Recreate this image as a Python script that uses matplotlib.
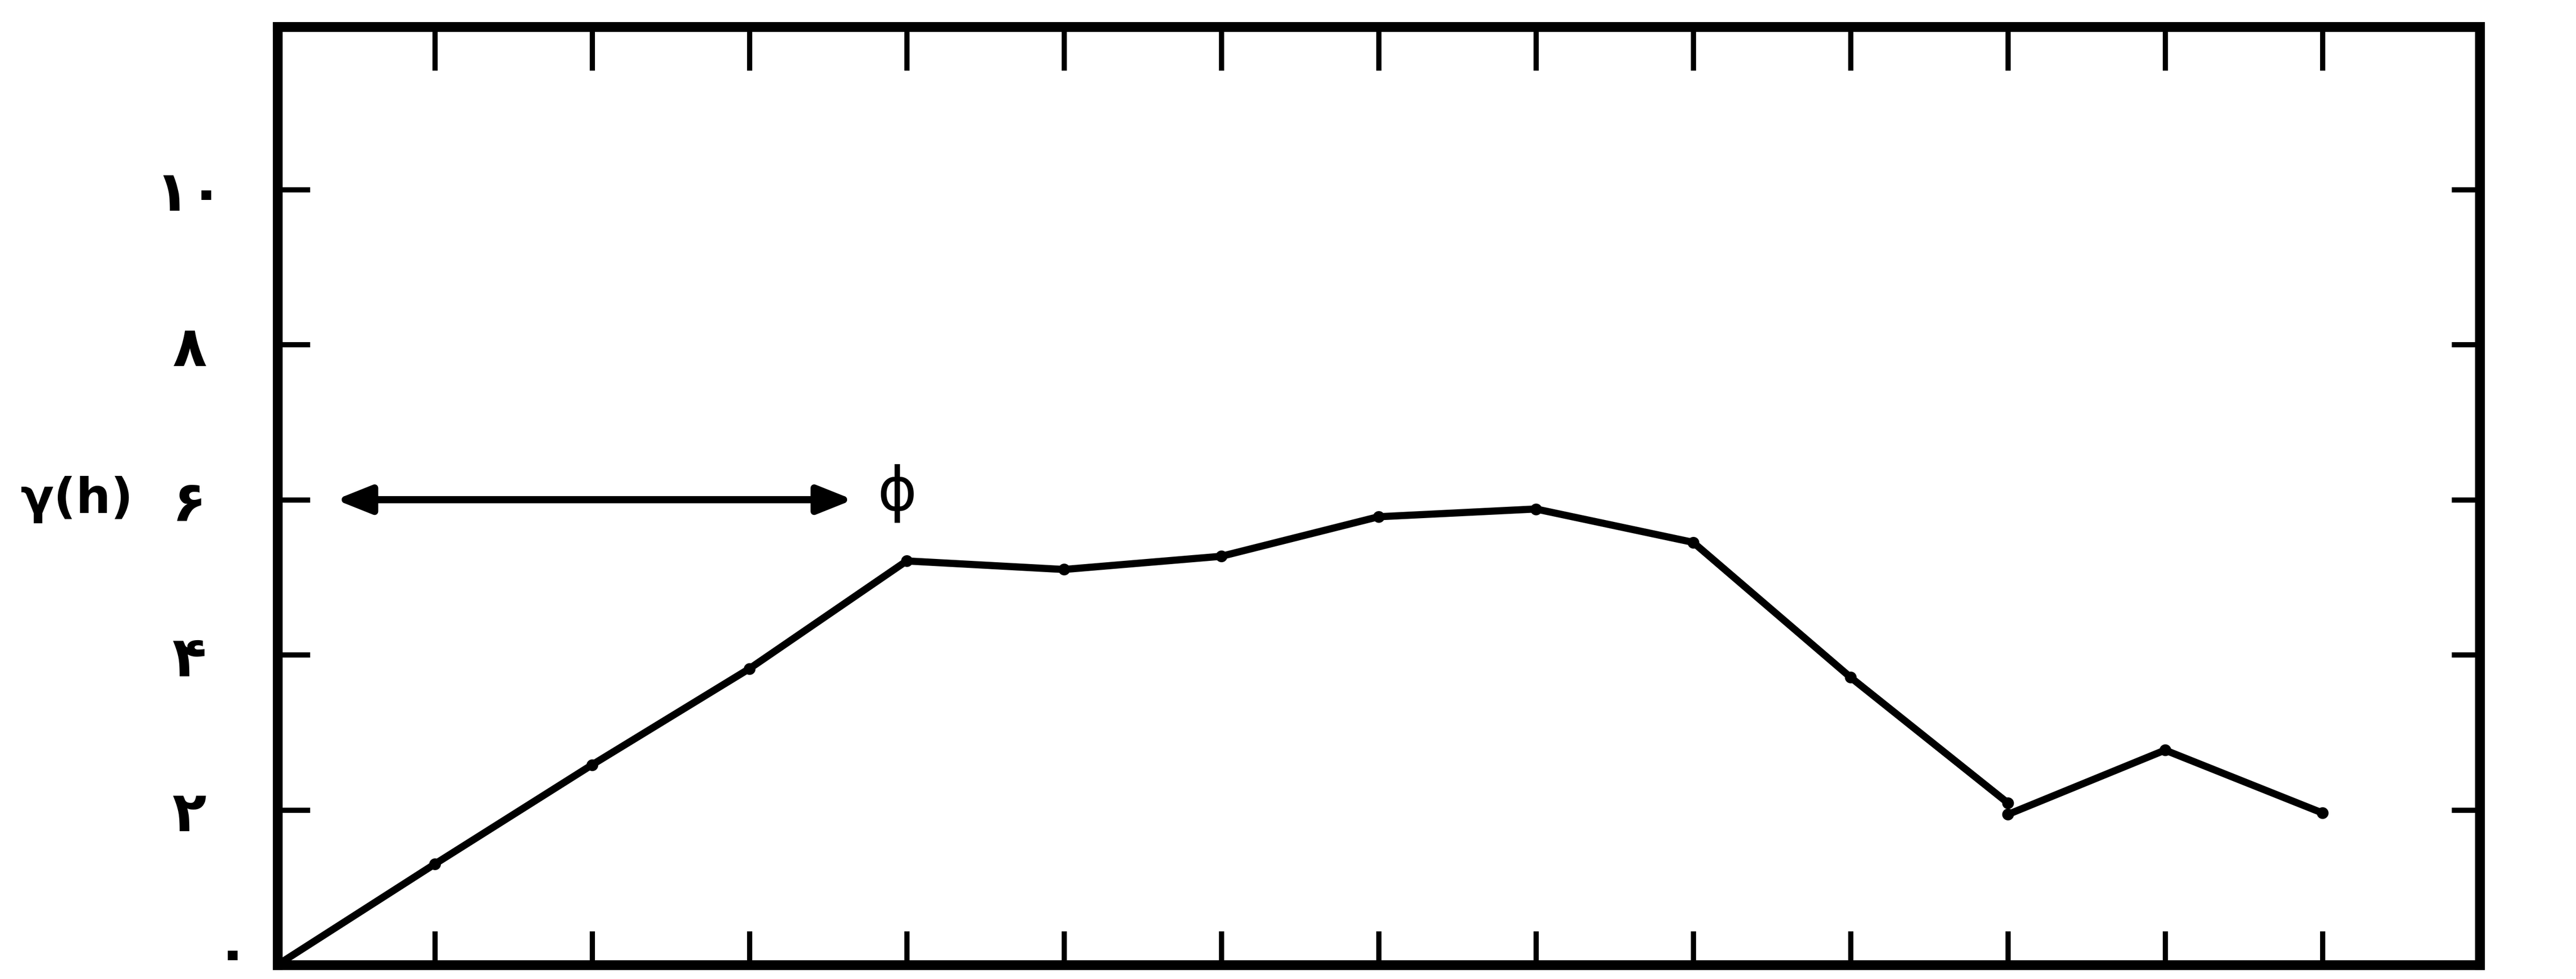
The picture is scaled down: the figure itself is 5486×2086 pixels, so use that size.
import matplotlib.pyplot as plt

plt.rcParams['font.family'] = ['DejaVu Sans']

# lag h (1..13) and the semivariogram
lag = [0, 1, 2, 3, 4, 5, 6, 7, 8, 9, 10, 11]
gamma = [0, 1.30, 2.58, 3.82, 5.21, 5.10, 5.27, 5.78, 5.88, 5.45, 3.71, 2.09]
# the last piece is drawn separately (small break at h=11)
lag_tail = [11, 12, 13]
gamma_tail = [1.94, 2.77, 1.96]

x_ticks = list(range(1, 14))
y_ticks = [2, 4, 6, 8, 10]
y_labels = ['۲', '۴', '۶', '۸', '۱۰']
zero_label = '۰'
y_name = 'γ(h)'

# range arrow at the sill
range_start = 0.37
range_end = 3.66
sill = 6.0
range_mark = 'ɸ'
range_mark_x = 3.94

fig = plt.figure(figsize=(54.86, 20.86), dpi=100)
ax = fig.add_axes([0.1077, 0.0144, 0.8549, 0.9583])

ax.plot(lag, gamma, color='black', lw=11, marker='o', ms=17,
        solid_joinstyle='round', solid_capstyle='round')
ax.plot(lag_tail, gamma_tail, color='black', lw=11, marker='o', ms=17,
        solid_joinstyle='round', solid_capstyle='round')

ax.set_xlim(0, 14)
ax.set_ylim(0, 12.1)

for s in ax.spines.values():
    s.set_linewidth(15)

ax.set_xticks(x_ticks)
ax.set_xticklabels([])
ax.tick_params(axis='x', direction='in', length=52, width=8)

ax.set_yticks(y_ticks)
labels = ax.set_yticklabels(y_labels, fontsize=86, fontweight='bold')
for lbl in labels:
    lbl.set_horizontalalignment('center')
ax.tick_params(axis='y', direction='in', length=50, width=8, pad=135)

top = ax.secondary_xaxis('top')
top.set_xticks(x_ticks)
top.set_xticklabels([])
top.tick_params(direction='in', length=67, width=8)
top.spines['top'].set_linewidth(15)

right = ax.secondary_yaxis('right')
right.set_yticks(y_ticks)
right.set_yticklabels([])
right.tick_params(direction='in', length=43, width=8)
right.spines['right'].set_linewidth(15)

# persian zero sits a bit off the other labels, right at the bottom edge
fig.text(495 / 5486, -0.004, zero_label, ha='center', va='bottom',
         fontsize=86, fontweight='bold')

ax.text(-0.1168, sill, y_name, transform=ax.get_yaxis_transform(),
        ha='left', va='center', fontsize=75, fontweight='bold')

ax.annotate('', xy=(range_start, sill), xytext=(range_end, sill),
            arrowprops=dict(arrowstyle='<|-|>,head_length=1.0,head_width=0.4',
                            lw=11, color='black', mutation_scale=45,
                            shrinkA=0, shrinkB=0))
ax.text(range_mark_x, sill + 0.08, range_mark, ha='center', va='center',
        fontsize=92)

fig.savefig('out.png', dpi=100, facecolor='white')
